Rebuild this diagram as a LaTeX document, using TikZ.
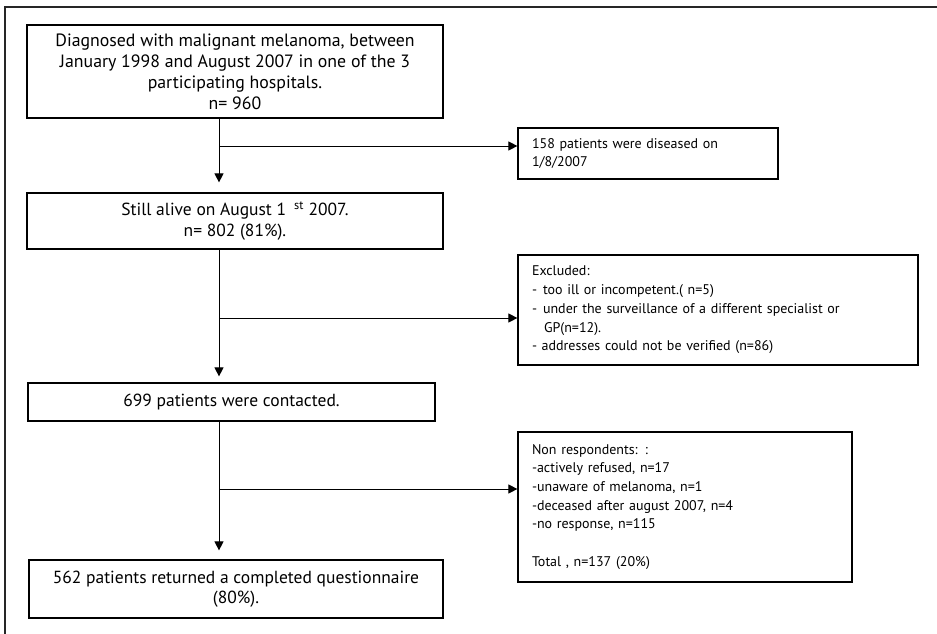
\documentclass[tikz,border=0pt]{standalone}
\usepackage{fontspec}
\setmainfont{PT Sans}
\usetikzlibrary{arrows.meta}

\tikzset{
  mainbox/.style={draw, line width=1.2pt, inner sep=0pt, align=center,
    font=\fontsize{17.5}{20.5}\selectfont},
  sidebox/.style={draw, line width=1.2pt, inner sep=0pt, align=left,
    font=\fontsize{14}{18.7}\selectfont},
  flow/.style={-{Triangle[length=9pt,width=9pt]}, line width=1pt},
}

\begin{document}
\begin{tikzpicture}[x=1pt,y=-1pt]
\useasboundingbox (0,0) rectangle (937,634);
% frame
\draw[line width=1.3pt, black!85] (937,7) -- (5,7) -- (5,634);

% main column
\node[mainbox, font=\fontsize{17.8}{21}\selectfont, minimum width=416pt, minimum height=93pt] (diag) at (235,71.5)
  {Diagnosed with malignant melanoma, between\\
   January 1998 and August 2007 in one of the 3\\
   participating hospitals.\\
   n= 960};
\node[mainbox, minimum width=416pt, minimum height=56pt] (alive) at (235,221)
  {Still alive on August 1\hspace{8pt}\textsuperscript{st} 2007.\\
   n= 802 (81\%).};
\node[mainbox, minimum width=407pt, minimum height=38pt] (contact) at (231.5,402)
  {699 patients were contacted.};
\node[mainbox, minimum width=414pt, minimum height=58pt] (done) at (236,589)
  {562 patients returned a completed questionnaire\\
   (80\%).};

% side boxes
\node[sidebox, minimum width=260pt, text width=232pt, minimum height=51pt] (dead) at (648,153.5)
  {158 patients were diseased on\\
   1/8/2007};
\node[sidebox, minimum width=400pt, text width=372pt, minimum height=110pt] (excl) at (718,310)
  {Excluded:\\
   -\hspace{6pt}too ill or incompetent.( n=5)\\
   -\hspace{6pt}under the surveillance of a different specialist or\\
   \hspace*{12pt}GP(n=12).\\
   - addresses could not be verified (n=86)};
\node[sidebox, minimum width=334pt, text width=306pt, minimum height=150pt] (nonresp) at (685,507)
  {Non respondents: :\\
   -actively refused, n=17\\
   -unaware of melanoma, n=1\\
   -deceased after august 2007, n=4\\
   -no response, n=115\\[19pt]
   Total , n=137 (20\%)};

% spine and branches
\coordinate (spine) at (219,0);
\coordinate (b1) at (219,146);
\coordinate (b2) at (219,318);
\coordinate (b3) at (219,489);

\draw[flow, shorten >=10pt] (diag.south -| spine) -- (alive.north -| spine);
\draw[flow, shorten >=6pt] (alive.south -| spine) -- (contact.north -| spine);
\draw[flow, shorten >=9pt] (contact.south -| spine) -- (done.north -| spine);

\draw[flow] (b1) -- (dead.west |- b1);
\draw[flow] (b2) -- (excl.west |- b2);
\draw[flow] (b3) -- (nonresp.west |- b3);
\end{tikzpicture}
\end{document}
